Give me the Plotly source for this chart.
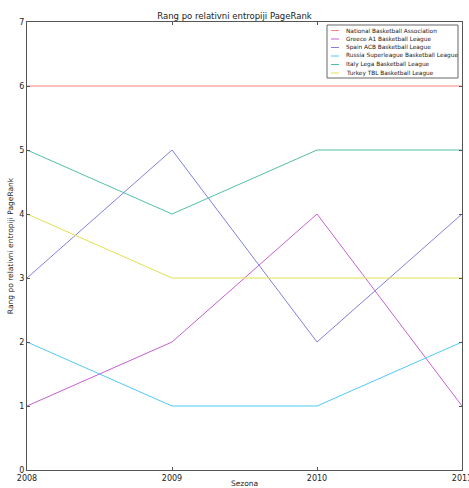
import plotly.graph_objects as go

seasons = [2008, 2009, 2010, 2011]
series_names = [
    "National Basketball Association",
    "Greece A1 Basketball League",
    "Spain ACB Basketball League",
    "Russia Superleague Basketball League",
    "Italy Lega Basketball League",
    "Turkey TBL Basketball League",
]
nba = [6, 6, 6, 6]
greece = [1, 2, 4, 1]
spain = [3, 5, 2, 4]
russia = [2, 1, 1, 2]
italy = [5, 4, 5, 5]
turkey = [4, 3, 3, 3]
colors = ["#ff8080", "#c560d0", "#8080e0", "#50c8f5", "#50c0a8", "#e0e050"]

W, H = 469, 488
L, R, T, B = 27, 7, 22, 18
pw, ph = W - L - R, H - T - B

def px_x(x):
    return (x - L) / pw

def px_y(y):
    return (H - B - y) / ph

fig = go.Figure()
for name, vals, c in zip(series_names, [nba, greece, spain, russia, italy, turkey], colors):
    fig.add_trace(go.Scatter(x=seasons, y=vals, mode="lines", name=name,
                             line=dict(color=c, width=1), showlegend=False))

# custom compact legend (matplotlib-style)
shapes = [dict(type="rect", xref="paper", yref="paper",
               x0=px_x(327), x1=px_x(458), y0=px_y(78), y1=px_y(25),
               line=dict(color="#666666", width=1), fillcolor="white", layer="above")]
annotations = []
for i, (name, c) in enumerate(zip(series_names, colors)):
    yy = 30.5 + i * 8.5
    shapes.append(dict(type="line", xref="paper", yref="paper",
                       x0=px_x(331), x1=px_x(339), y0=px_y(yy), y1=px_y(yy),
                       line=dict(color=c, width=1), layer="above"))
    annotations.append(dict(text=name, xref="paper", yref="paper",
                            x=px_x(344), y=px_y(yy), xanchor="left", yanchor="middle",
                            showarrow=False, font=dict(size=5.8, color="#222222")))

axis_common = dict(showgrid=False, zeroline=False, showline=True, linecolor="#555555",
                   linewidth=1, mirror="ticks", ticks="inside", ticklen=3,
                   tickcolor="#555555", tickfont=dict(size=8, color="#222222"),
                   automargin=False, ticklabeloverflow="allow")
fig.update_xaxes(range=[2008, 2011], tickvals=seasons, ticktext=[str(s) for s in seasons],
                 title=dict(text="Sezona", font=dict(size=7.5, color="#222222"), standoff=0),
                 **axis_common)
fig.update_yaxes(range=[0, 7], tickvals=list(range(8)),
                 title=dict(text="Rang po relativni entropiji PageRank",
                            font=dict(size=7.5, color="#222222"), standoff=4),
                 **axis_common)
fig.update_layout(
    width=W, height=H,
    margin=dict(l=L, r=R, t=T, b=B, autoexpand=False),
    paper_bgcolor="white", plot_bgcolor="white",
    font=dict(family="DejaVu Sans", size=8, color="#222222"),
    title=dict(text="Rang po relativni entropiji PageRank", x=px_x(244.5), xanchor="center",
               y=1 - 16 / H, yanchor="middle", font=dict(size=8.5, color="#222222")),
    showlegend=False,
    shapes=shapes,
    annotations=annotations,
)
fig.write_html("out.html", config={"displayModeBar": False},
               post_script="document.body.style.margin='0';document.body.style.overflow='hidden';")
